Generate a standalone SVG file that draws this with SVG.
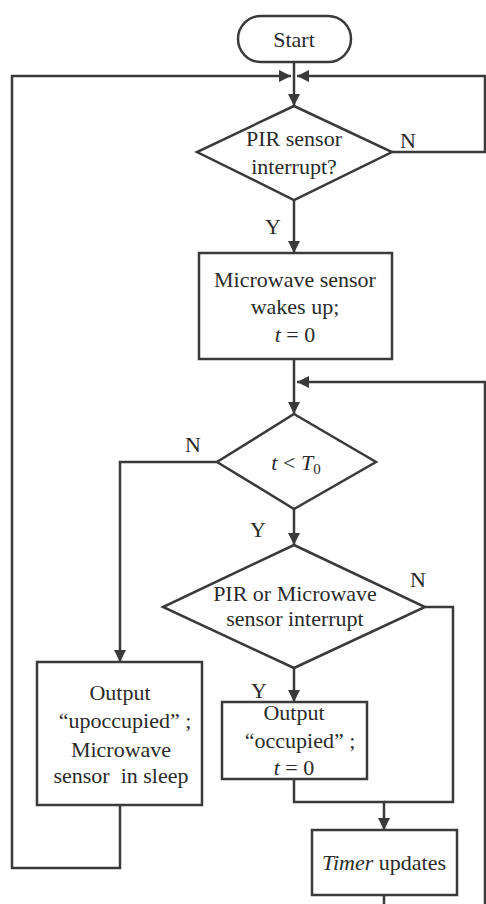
<svg xmlns="http://www.w3.org/2000/svg" width="486" height="904" viewBox="0 0 486 904">
<style>
.s{fill:#fff;stroke:#3a3a3a;stroke-width:2.5}
.c{fill:none;stroke:#3a3a3a;stroke-width:2.5}
text{font-family:"Liberation Serif","Times New Roman",serif;font-size:22px;fill:#2a2a2a;text-anchor:middle;white-space:pre}
.l{text-anchor:start}
.i{font-style:italic}
</style>
<defs>
<marker id="ah" viewBox="0 0 10 10" refX="10" refY="5" markerWidth="12" markerHeight="12" markerUnits="userSpaceOnUse" orient="auto">
<path d="M0,0 L10,5 L0,10 z" fill="#3a3a3a"/>
</marker>
</defs>
<g id="connectors">
<path class="c" d="M294,62 V106" marker-end="url(#ah)"/>
<path class="c" d="M120,805 V868 H12 V76 H291" marker-end="url(#ah)"/>
<path class="c" d="M392,152 H485 V76 H297" marker-end="url(#ah)"/>
<path class="c" d="M294,200 V253" marker-end="url(#ah)"/>
<path class="c" d="M294,359 V414" marker-end="url(#ah)"/>
<path class="c" d="M384,895 V910 H485 V382 H297" marker-end="url(#ah)"/>
<path class="c" d="M217,462 H120 V662" marker-end="url(#ah)"/>
<path class="c" d="M294,509 V545" marker-end="url(#ah)"/>
<path class="c" d="M425,607 H453 V802 H384"/>
<path class="c" d="M294,668 V702" marker-end="url(#ah)"/>
<path class="c" d="M294,779 V802 H384 V830" marker-end="url(#ah)"/>
<text class="l" x="400" y="148">N</text>
<text class="l" x="265" y="234">Y</text>
<text class="l" x="185" y="452">N</text>
<text class="l" x="250" y="537">Y</text>
<text class="l" x="410" y="587">N</text>
<text class="l" x="251" y="698">Y</text>
</g>
<g id="start">
<rect class="s" x="238" y="16" width="113" height="46" rx="23"/>
<text x="294" y="47">Start</text>
</g>
<g id="pir">
<polygon class="s" points="294,106 392,152 294,200 197,152"/>
<text x="294" y="146">PIR sensor</text>
<text x="294" y="174">interrupt?</text>
</g>
<g id="wake">
<rect class="s" x="199" y="253" width="193" height="106"/>
<text x="295" y="287">Microwave sensor</text>
<text x="295" y="314">wakes up;</text>
<text x="295" y="342"><tspan class="i">t</tspan> = 0</text>
</g>
<g id="timecheck">
<polygon class="s" points="294,414 376,462 294,509 217,462"/>
<text x="296" y="470"><tspan class="i">t</tspan> &lt; <tspan class="i">T</tspan><tspan font-size="15" dy="4">0</tspan></text>
</g>
<g id="sensorcheck">
<polygon class="s" points="294,545 425,607 294,668 163,607"/>
<text x="295" y="601">PIR or Microwave</text>
<text x="295" y="626">sensor interrupt</text>
</g>
<g id="unoccupied">
<rect class="s" x="37" y="662" width="165" height="143"/>
<text x="120" y="700">Output</text>
<text x="125" y="728">“upoccupied” ;</text>
<text x="121" y="757">Microwave</text>
<text x="121" y="783">sensor  in sleep</text>
</g>
<g id="occupied">
<rect class="s" x="222" y="702" width="145" height="77"/>
<text x="294" y="720">Output</text>
<text x="300" y="748">“occupied” ;</text>
<text x="294" y="775"><tspan class="i">t</tspan> = 0</text>
</g>
<g id="timer">
<rect class="s" x="312" y="830" width="145" height="65"/>
<text x="384" y="870"><tspan class="i">Timer</tspan> updates</text>
</g>
</svg>
